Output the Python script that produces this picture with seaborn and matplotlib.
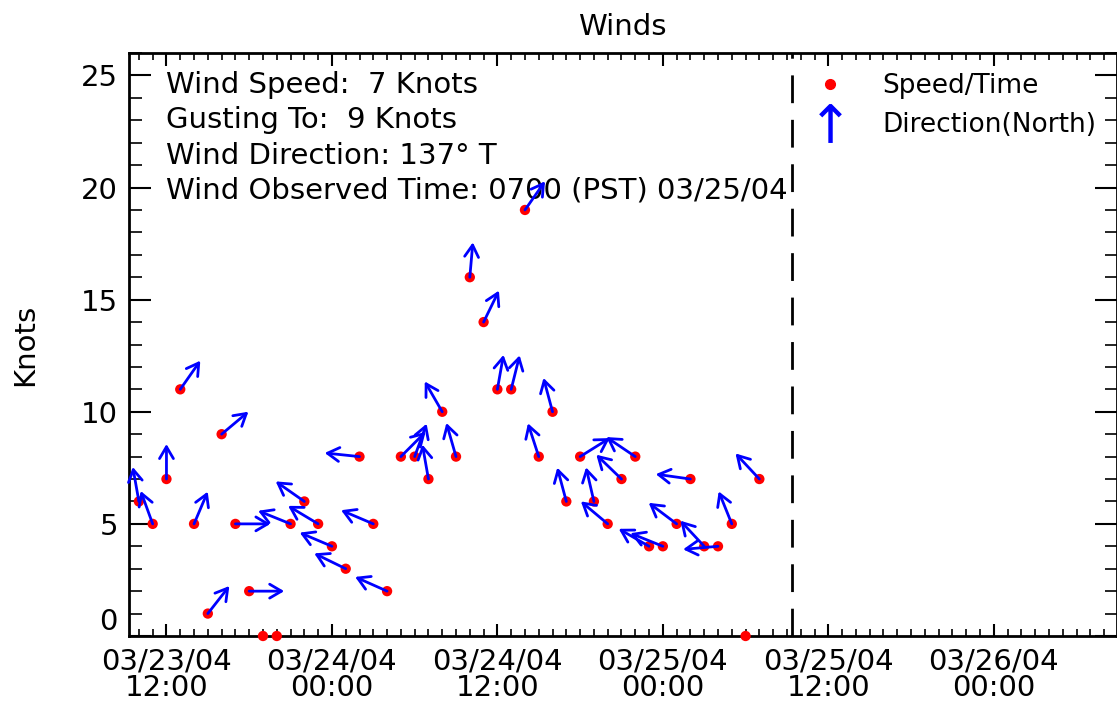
import numpy as np
import pandas as pd
import matplotlib
matplotlib.use("Agg")
import matplotlib.pyplot as plt
import matplotlib.dates as mdates
import matplotlib.transforms as mtransforms
from matplotlib.lines import Line2D
import seaborn as sns

# ---------------- data ----------------
start_time = "2004-03-23 10:00"
n_obs = 46  # hourly observations, 03/23 10:00 .. 03/25 07:00
wind_speed_kt = [6, 5, 7, 11, 5, 1, 9, 5, 2, 0, 0, 5, 6, 5, 4, 3, 8, 5, 2, 8,
                 8, 7, 10, 8, 16, 14, 11, 11, 19, 8, 10, 6, 8, 6, 5, 7, 8, 4,
                 4, 5, 7, 4, 4, 5, 0, 7]
# direction wind is blowing FROM (degrees true); NaN = calm
wind_from_deg = [170, 160, 180, 215, 203, 218, 230, 270, 270, np.nan, np.nan,
                 112, 125, 121, 113, 116, 96, 113, 114, 225, 200, 170, 150,
                 164, 185, 206, 190, 194, 215, 162, 165, 165, 238, 167, 130,
                 134, 124, 120, 112, 127, 98, 137, 85, 158, np.nan, 137]
info_lines = ["Wind Speed:  7 Knots",
              "Gusting To:  9 Knots",
              "Wind Direction: 137\u00b0 T",
              "Wind Observed Time: 0700 (PST) 03/25/04"]
now_marker = "2004-03-25 09:24"
x_range = ["2004-03-23 09:17", "2004-03-26 08:54"]
y_range = [0, 26]
title = "Winds"
y_label = "Knots"
legend_labels = ["Speed/Time", "Direction(North)"]

times = pd.date_range(start_time, periods=n_obs, freq="h")
df = pd.DataFrame({"time": times, "speed": wind_speed_kt, "dir": wind_from_deg})

# ---------------- style ----------------
FS = 21
sns.set_theme(style="white")
plt.rcParams.update({
    "font.family": ["DejaVu Sans"],
    "font.size": FS,
    "axes.edgecolor": "black",
    "axes.linewidth": 2,
    "xtick.direction": "in",
    "ytick.direction": "in",
    "xtick.color": "black",
    "ytick.color": "black",
    "text.color": "black",
    "axes.labelcolor": "black",
})

W, H = 1117, 705
fig = plt.figure(figsize=(W / 100, H / 100), dpi=100)
ax = fig.add_axes([129 / W, 1 - 636 / H, (1116.5 - 129) / W, (636 - 53) / H])

sns.scatterplot(data=df, x="time", y="speed", color="red", s=55,
                edgecolor="none", ax=ax, legend=False, zorder=3, clip_on=False)

# direction arrows (fixed screen length, pointing downwind, north = up)
L_px = 35
for t, s, d in zip(df["time"], df["speed"], df["dir"]):
    if np.isnan(d):
        continue
    b = np.deg2rad((d + 180) % 360)
    dx = L_px * np.sin(b) / 100
    dy = L_px * np.cos(b) / 100
    tr = ax.transData + mtransforms.ScaledTranslation(dx, dy, fig.dpi_scale_trans)
    xn = mdates.date2num(t)
    ax.annotate("", xy=(xn, s), xycoords=tr, xytext=(xn, s), textcoords="data",
                arrowprops=dict(arrowstyle="->,head_length=0.85,head_width=0.5",
                                color="blue", lw=2, shrinkA=0, shrinkB=0,
                                mutation_scale=10),
                zorder=4, annotation_clip=False)

ax.axvline(pd.Timestamp(now_marker), color="black", lw=2, ls=(0, (10, 6)), zorder=2)

ax.set_xlim(pd.Timestamp(x_range[0]), pd.Timestamp(x_range[1]))
ax.set_ylim(*y_range)

ax.xaxis.set_major_locator(mdates.HourLocator(byhour=[0, 12]))
ax.xaxis.set_minor_locator(mdates.HourLocator())
ax.xaxis.set_major_formatter(mdates.DateFormatter("%m/%d/%y\n%H:%M"))
ax.yaxis.set_major_locator(matplotlib.ticker.MultipleLocator(5))
ax.yaxis.set_minor_locator(matplotlib.ticker.MultipleLocator(1))

ax.tick_params(axis="x", which="major", length=9, width=1.5, top=True, bottom=True,
               labelsize=FS, pad=8)
ax.tick_params(axis="x", which="minor", length=5, width=1.2, top=True, bottom=True)
ax.tick_params(axis="y", which="major", length=16, width=1.5, left=True, right=True,
               labelsize=FS, pad=8)
ax.tick_params(axis="y", which="minor", length=9, width=1.2, left=True, right=True)

ax.set_xlabel("")
ax.set_ylabel(y_label, fontsize=FS, labelpad=30)
ax.set_title(title, fontsize=FS, pad=13)

for i, line in enumerate(info_lines):
    ax.text(0.037, 0.945 - i * 0.0605, line, transform=ax.transAxes,
            ha="left", va="center", fontsize=FS)

handles = [Line2D([], [], color="red", marker="o", markersize=7, linestyle="None"),
           Line2D([], [], color="blue", marker=r"$\uparrow$", markersize=28,
                  markeredgewidth=0, linestyle="None")]
ax.legend(handles, legend_labels, loc="upper left", bbox_to_anchor=(0.680, 0.966),
          frameon=False, fontsize=19, handlelength=2.2, handletextpad=0.9,
          borderpad=0, borderaxespad=0, labelspacing=0.5)

fig.canvas.draw()
for lab in ax.get_xticklabels():
    lab.set_linespacing(0.95)
for tick in ax.yaxis.get_major_ticks():
    if abs(tick.get_loc()) < 1e-9:
        tick.label1.set_va("bottom")

fig.savefig("out.png", dpi=100)
